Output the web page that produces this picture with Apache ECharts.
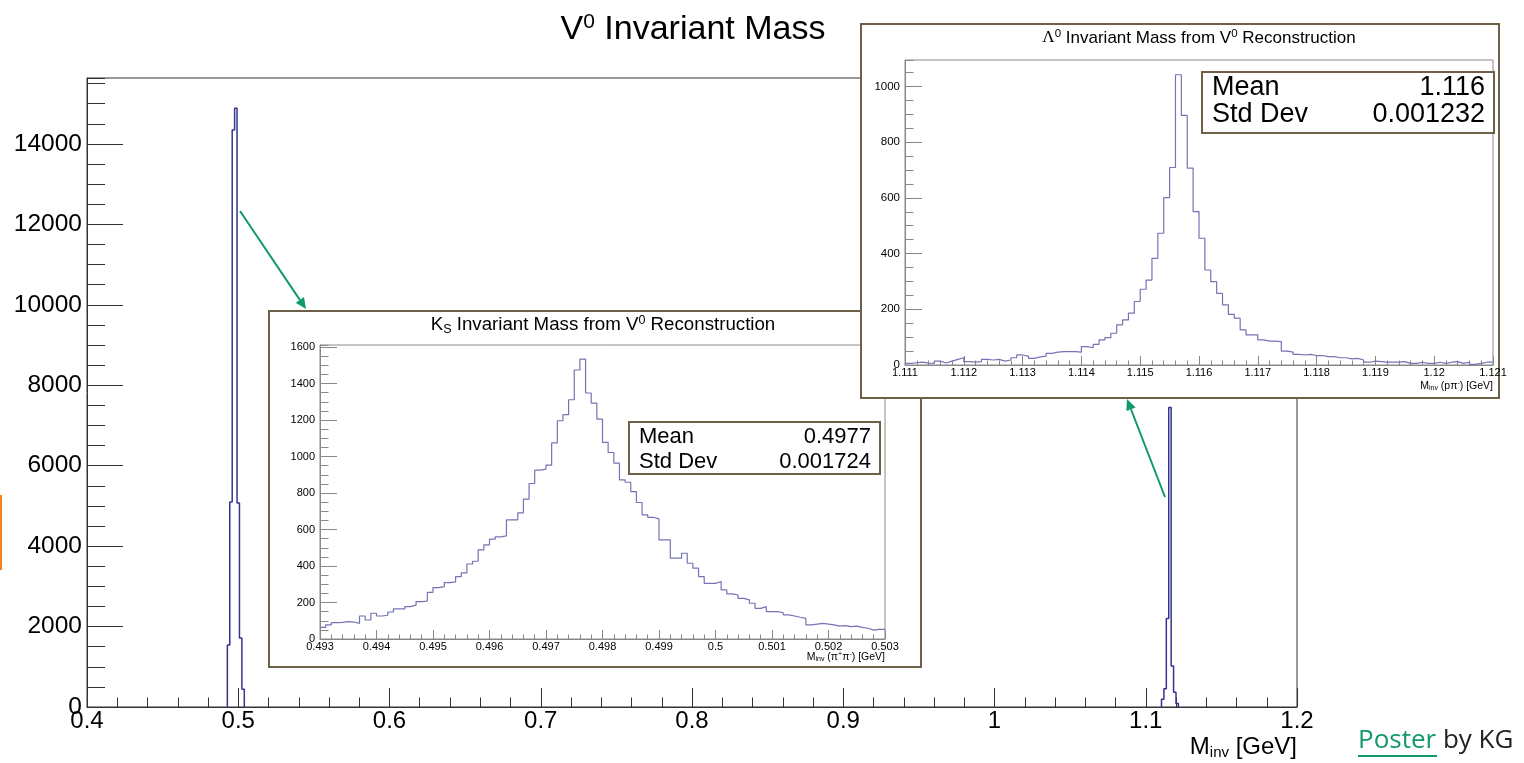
<!DOCTYPE html>
<html><head><meta charset="utf-8">
<script src="https://cdn.jsdelivr.net/npm/echarts@6/dist/echarts.min.js"></script>
<style>html,body{margin:0;padding:0;background:#fff}#c{width:1524px;height:763px}</style>
</head><body><div id="c"></div>
<script>
// ---- data ----
const mainBinWidth = 0.0016;
const ksPeakLowEdge = 0.4928;
const ksPeakCounts = [1540, 5100, 14350, 14890, 5070, 1716, 440];
const lambdaPeakLowEdge = 1.1104;
const lambdaPeakCounts = [190, 455, 2200, 7450, 1020, 365, 90];

const ksRange = [0.493, 0.503];
const ksCounts = [64, 77, 90, 91, 95, 93, 86, 126, 104, 141, 126, 130, 148, 165, 165, 177, 186, 205, 208, 256,
  282, 287, 309, 313, 342, 362, 411, 426, 488, 516, 547, 560, 565, 653, 653, 691, 766, 852, 925, 931,
  953, 1075, 1196, 1229, 1311, 1474, 1534, 1348, 1293, 1205, 1077, 1022, 964, 872, 859, 808, 748, 680, 667, 658,
  543, 543, 443, 443, 470, 415, 388, 342, 305, 305, 315, 269, 247, 241, 223, 214, 196, 168, 177, 150,
  150, 144, 132, 126, 119, 113, 77, 82, 86, 82, 77, 71, 73, 68, 71, 64, 59, 49, 53, 53];

const lambdaRange = [1.111, 1.121];
const lambdaCounts = [6, 8, 10, 7, 6, 14, 7, 14, 20, 26, 12, 10, 12, 20, 18, 20, 14, 18, 26, 36,
  32, 24, 29, 32, 42, 46, 48, 48, 48, 46, 66, 62, 74, 90, 98, 114, 144, 162, 186, 228,
  272, 305, 383, 473, 601, 709, 1042, 896, 707, 551, 455, 341, 299, 257, 216, 182, 168, 126, 108, 108,
  90, 86, 86, 84, 50, 46, 38, 36, 38, 34, 34, 30, 30, 26, 26, 22, 24, 18, 10, 14,
  12, 10, 10, 10, 12, 6, 6, 10, 6, 6, 10, 6, 10, 12, 6, 10, 2, 6, 10, 10];

const statLabels = ['Mean', 'Std Dev'];
const ksStatValues = ['0.4977', '0.001724'];
const lambdaStatValues = ['1.116', '0.001232'];

// ---- helpers ----
function stepPoints(low, w, counts, closed) {
  const pts = [[low, closed ? 0 : counts[0]]];
  counts.forEach((c, i) => pts.push([+(low + (i + 1) * w).toFixed(6), c]));
  if (closed) pts.push([+(low + counts.length * w).toFixed(6), 0]);
  return pts;
}
const FONT = 'Liberation Sans, Arial, Helvetica, sans-serif';
const plain = v => String(+v.toFixed(6));

function xAx(grid, min, max, interval, tickLen, fontSize, z, lineColor, split) {
  return {
    gridIndex: grid, type: 'value', min: min, max: max, interval: interval, z: z,
    axisLine: { show: true, lineStyle: { color: lineColor, width: 1 } },
    axisTick: { show: true, inside: true, length: tickLen, lineStyle: { color: lineColor } },
    minorTick: { show: true, splitNumber: split, length: tickLen / 2, lineStyle: { color: lineColor } },
    splitLine: { show: false }, minorSplitLine: { show: false },
    axisLabel: { fontSize: fontSize, color: '#000', margin: 2, fontFamily: FONT, formatter: plain, showMinLabel: true, showMaxLabel: true }
  };
}
function yAx(grid, max, interval, tickLen, fontSize, z, lineColor, labels) {
  return {
    gridIndex: grid, type: 'value', min: 0, max: max, interval: interval, z: z, position: 'left',
    axisLine: { show: labels, lineStyle: { color: lineColor, width: 1 } },
    axisTick: { show: true, inside: true, length: tickLen, lineStyle: { color: lineColor } },
    splitLine: { show: false },
    axisLabel: { show: labels, fontSize: fontSize, color: '#000', margin: 5, fontFamily: FONT, formatter: plain, showMaxLabel: false }
  };
}
function arrow(x1, y1, x2, y2, z) {
  const dx = x2 - x1, dy = y2 - y1, L = Math.hypot(dx, dy);
  const ux = dx / L, uy = dy / L, hl = 11, hw = 5;
  const bx = x2 - hl * ux, by = y2 - hl * uy;
  return [
    { type: 'line', z: z, shape: { x1: x1, y1: y1, x2: bx, y2: by }, style: { stroke: '#12996b', lineWidth: 2 } },
    { type: 'polygon', z: z, shape: { points: [[x2, y2], [bx - hw * uy, by + hw * ux], [bx + hw * uy, by - hw * ux]] }, style: { fill: '#12996b' } }
  ];
}
function txt(x, y, text, size, align, z, extra) {
  return {
    type: 'text', z: z, x: x, y: y,
    style: Object.assign({ text: text, fontSize: size, fontFamily: FONT, fill: '#000',
      align: align, textAlign: align, verticalAlign: 'middle', textVerticalAlign: 'middle' }, extra || {})
  };
}
function statsBox(x, y, w, h, rowY, size, values, z) {
  const els = [{ type: 'rect', z: z, shape: { x: x, y: y, width: w, height: h }, style: { fill: '#fff', stroke: '#6e6047', lineWidth: 2 } }];
  statLabels.forEach((lab, i) => {
    els.push(txt(x + 10, rowY[i], lab, size, 'left', z + 1));
    els.push(txt(x + w - 9, rowY[i], values[i], size, 'right', z + 1));
  });
  return els;
}

const chart = echarts.init(document.getElementById('c'), null, { renderer: 'canvas' });

const mainColor = '#34348f';
const insetColor = '#7474b4';

const graphics = [].concat(
  [{ type: 'rect', z: 1, shape: { x: 0, y: 495, width: 2, height: 75 }, style: { fill: '#f5841f' } }],
  [txt(693, 30, 'V{sup|0} Invariant Mass', 34, 'center', 5, {
    rich: { sup: { fontSize: 21, fontFamily: FONT, padding: [0, 0, 15, 0] } } })],
  [txt(1297, 747, 'M{sub|inv} [GeV]', 24, 'right', 5, {
    rich: { sub: { fontSize: 15, fontFamily: FONT, padding: [12, 0, 0, 0] } } })],
  // Ks inset box
  [{ type: 'rect', z: 10, shape: { x: 269, y: 311, width: 652, height: 356 }, style: { fill: '#fff', stroke: '#6e6047', lineWidth: 2 } }],
  [txt(603, 325, 'K{sub|S} Invariant Mass from V{sup|0} Reconstruction', 18.7, 'center', 15, {
    rich: { sub: { fontSize: 12.5, fontFamily: FONT, padding: [9, 0, 0, 0] }, sup: { fontSize: 12.5, fontFamily: FONT, padding: [0, 0, 9, 0] } } })],
  [txt(885, 657, 'M{sub|inv} (π{sup|+}π{sup|-}) [GeV]', 10.5, 'right', 15, {
    rich: { sub: { fontSize: 7, fontFamily: FONT, padding: [5, 0, 0, 0] }, sup: { fontSize: 7, fontFamily: FONT, padding: [0, 0, 5, 0] } } })],
  statsBox(629, 422, 251, 52, [437, 462], 22, ksStatValues, 15),
  // Lambda inset box
  [{ type: 'rect', z: 20, shape: { x: 861, y: 24, width: 638, height: 374 }, style: { fill: '#fff', stroke: '#6e6047', lineWidth: 2 } }],
  [txt(1199, 38, '{lam|Λ}{sup|0} Invariant Mass from V{sup|0} Reconstruction', 17, 'center', 25, {
    rich: { lam: { fontSize: 17, fontFamily: 'Liberation Serif, DejaVu Serif, serif' }, sup: { fontSize: 11.5, fontFamily: FONT, padding: [0, 0, 8, 0] } } })],
  [txt(1493, 386, 'M{sub|inv} (pπ{sup|-}) [GeV]', 10.5, 'right', 25, {
    rich: { sub: { fontSize: 7, fontFamily: FONT, padding: [5, 0, 0, 0] }, sup: { fontSize: 7, fontFamily: FONT, padding: [0, 0, 5, 0] } } })],
  statsBox(1202, 72, 292, 61, [88, 115], 27, lambdaStatValues, 25),
  // arrows
  arrow(240, 211, 306, 309, 30),
  arrow(1165, 497, 1127, 399, 30),
  // Poster by KG
  [txt(1358, 741, '{lnk|Poster} by KG', 26, 'left', 5, {
    fontFamily: 'Open Sans, Noto Sans, sans-serif', fill: '#222',
    rich: { lnk: { fontSize: 26, fontFamily: 'Open Sans, Noto Sans, sans-serif', fill: '#12996b', color: '#12996b' } } })],
  [{ type: 'line', z: 5, shape: { x1: 1358, y1: 756, x2: 1437, y2: 756 }, style: { stroke: '#12996b', lineWidth: 2 } }]
);

const option = {
  animation: false,
  backgroundColor: '#fff',
  grid: [
    { left: 87, top: 78, width: 1210, height: 629, show: true, borderColor: '#333', borderWidth: 1, backgroundColor: 'rgba(0,0,0,0)', z: 0, containLabel: false, outerBoundsMode: 'none' },
    { left: 320, top: 345, width: 565, height: 294, show: true, borderColor: '#8a8a8a', borderWidth: 1, backgroundColor: '#fff', z: 11, containLabel: false, outerBoundsMode: 'none' },
    { left: 905, top: 60, width: 588, height: 305, show: true, borderColor: '#8a8a8a', borderWidth: 1, backgroundColor: '#fff', z: 21, containLabel: false, outerBoundsMode: 'none' }
  ],
  xAxis: [
    xAx(0, 0.4, 1.2, 0.1, 19, 24, 1, '#333', 5),
    xAx(1, ksRange[0], ksRange[1], 0.001, 9, 11, 12, '#888', 5),
    xAx(2, lambdaRange[0], lambdaRange[1], 0.001, 9, 11, 22, '#888', 5)
  ],
  yAxis: [
    yAx(0, 15640, 2000, 36, 24.5, 1, '#333', true),
    yAx(0, 15640, 500, 18, 24, 1, '#333', false),
    yAx(1, 1611, 200, 17, 11, 12, '#888', true),
    yAx(1, 1611, 50, 8.5, 11, 12, '#888', false),
    yAx(2, 1095, 200, 17, 11.5, 22, '#888', true),
    yAx(2, 1095, 50, 8.5, 11.5, 22, '#888', false)
  ],
  series: [
    { type: 'line', xAxisIndex: 0, yAxisIndex: 0, step: 'start', symbol: 'none', z: 3, clip: true,
      lineStyle: { color: mainColor, width: 1.5 }, data: stepPoints(ksPeakLowEdge, mainBinWidth, ksPeakCounts, true) },
    { type: 'line', xAxisIndex: 0, yAxisIndex: 0, step: 'start', symbol: 'none', z: 3, clip: true,
      lineStyle: { color: mainColor, width: 1.5 }, data: stepPoints(lambdaPeakLowEdge, mainBinWidth, lambdaPeakCounts, true) },
    { type: 'line', xAxisIndex: 1, yAxisIndex: 2, step: 'start', symbol: 'none', z: 13, clip: true,
      lineStyle: { color: insetColor, width: 1.2 }, data: stepPoints(ksRange[0], 0.0001, ksCounts, false) },
    { type: 'line', xAxisIndex: 2, yAxisIndex: 4, step: 'start', symbol: 'none', z: 23, clip: true,
      lineStyle: { color: insetColor, width: 1.2 }, data: stepPoints(lambdaRange[0], 0.0001, lambdaCounts, false) }
  ],
  graphic: { elements: graphics }
};
chart.setOption(option);
</script></body></html>
